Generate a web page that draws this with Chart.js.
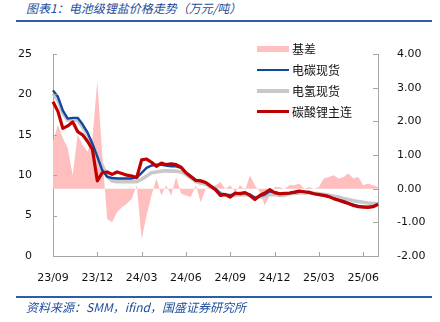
<!DOCTYPE html>
<html>
<head>
<meta charset="utf-8">
<script src="https://cdn.jsdelivr.net/npm/chart.js@4/dist/chart.umd.min.js"></script>
<style>
  body { margin: 0; background: #fff; }
  #wrap { position: relative; width: 440px; height: 322px; overflow: hidden; font-family: "Noto Sans CJK SC", "DejaVu Sans", sans-serif; }
  #c { position: absolute; left: 0; top: 0; }
  .title { position: absolute; left: 26px; top: 0px; font-size: 12px; line-height: 15px; font-style: italic; color: #1F4E9A; white-space: nowrap; }
  .rule { position: absolute; left: 16px; width: 416px; height: 2px; background: #2E5DA6; }
  .src { position: absolute; left: 26px; top: 299px; font-size: 12px; line-height: 15px; font-style: italic; color: #1F4E9A; white-space: nowrap; }
  #legend { position: absolute; left: 257px; top: 38px; background: #fff; }
  .item { height: 21px; display: flex; align-items: center; font-size: 12px; color: #111; white-space: nowrap; }
  .sample { width: 32px; margin-right: 3px; }
</style>
</head>
<body>
<div id="wrap">
  <div class="title">图表1：电池级锂盐价格走势（万元/吨）</div>
  <div class="rule" style="top:20px"></div>
  <canvas id="c" width="440" height="322"></canvas>
  <div id="legend"></div>
  <div class="rule" style="top:296px"></div>
  <div class="src">资料来源：SMM，ifind，国盛证券研究所</div>
</div>
<script>
// months shown, three points per month (上/中/下旬)
const months = ['23/09','23/10','23/11','23/12','24/01','24/02','24/03','24/04','24/05','24/06','24/07','24/08',
  '24/09','24/10','24/11','24/12','25/01','25/02','25/03','25/04','25/05','25/06','25/07'];
const tickLabels = ['23/09','23/12','24/03','24/06','24/09','24/12','25/03','25/06'];

// 电碳现货 (万元/吨)
const carbSpot = [20.5,19.7,18.0,17.0,17.1,17.1,16.3,15.3,13.9,12.3,
  10.6,9.8,9.65,9.6,9.6,9.6,9.6,9.7,10.3,10.9,
  11.2,11.3,11.3,11.2,11.1,11.1,10.9,10.3,9.9,9.4,
  9.3,9.1,8.7,8.3,7.7,7.6,7.5,7.7,7.8,7.8,
  7.6,7.2,7.4,7.6,8.0,7.9,7.75,7.7,7.75,7.85,
  7.95,7.95,7.85,7.7,7.6,7.5,7.4,7.1,6.95,6.8,
  6.55,6.35,6.2,6.1,6.1,6.15,6.4];
// 电氢现货
const hydSpot = [20.1,19.3,17.7,16.8,16.9,16.8,16.0,15.0,13.8,12.4,
  11.2,9.9,9.3,9.2,9.2,9.2,9.2,9.2,9.5,9.9,
  10.3,10.4,10.5,10.55,10.5,10.5,10.4,10.1,9.7,9.2,
  9.0,8.9,8.6,8.2,7.8,7.6,7.5,7.5,7.6,7.6,
  7.5,7.2,7.3,7.4,7.6,7.6,7.5,7.5,7.7,7.75,
  7.8,7.8,7.8,7.75,7.7,7.6,7.5,7.4,7.3,7.1,
  7.0,6.85,6.75,6.65,6.55,6.5,6.45];
// 碳酸锂主连
const futures = [19.1,17.9,15.8,16.1,16.6,15.4,15.0,14.2,13.2,9.3,
  10.3,10.4,10.1,10.4,10.2,10.0,9.9,9.7,11.9,12.0,
  11.6,11.1,11.5,11.3,11.4,11.3,11.0,10.3,9.8,9.35,
  9.3,9.1,8.65,8.2,7.5,7.6,7.3,7.8,7.7,7.85,
  7.5,7.0,7.5,7.8,8.2,7.85,7.7,7.75,7.8,7.9,
  8.05,7.95,7.9,7.7,7.6,7.5,7.35,7.1,6.9,6.7,
  6.5,6.25,6.1,6.05,6.0,6.1,6.4];
// 基差 (right axis)
const basis = [1.4,1.9,1.5,1.2,0.4,1.6,1.3,1.1,1.5,3.2,
  1.0,-0.9,-1.0,-0.7,-0.55,-0.45,-0.3,0.1,-1.5,-0.8,
  -0.2,0.3,-0.2,0.1,-0.2,0.35,-0.15,-0.2,-0.25,0.1,
  -0.4,0.0,0.05,0.1,0.2,0.0,0.1,-0.1,0.1,-0.05,
  0.4,0.1,-0.1,-0.5,-0.2,0.05,0.05,0.0,0.1,0.1,
  0.15,0.0,0.05,0.0,0.05,0.3,0.35,0.4,0.3,0.35,
  0.45,0.3,0.35,0.1,0.15,0.1,0.05];

const labels = [];
months.forEach(m => ['上','中','下'].forEach(p => labels.push(m + p)));
labels.length = carbSpot.length;

const axisColor = '#A6A6A6';
const tickFont = { family: 'DejaVu Sans', size: 11 };

// small tick marks pointing into the plot
const innerTicks = {
  id: 'innerTicks',
  afterDraw(chart) {
    const ctx = chart.ctx, a = chart.chartArea;
    const x = chart.scales.x, y = chart.scales.y, y1 = chart.scales.y1;
    ctx.save();
    ctx.strokeStyle = axisColor;
    ctx.lineWidth = 1;
    ctx.beginPath();
    labels.forEach((l, i) => {
      if (l.endsWith('上') && tickLabels.includes(l.slice(0, 5))) {
        const px = Math.round(x.getPixelForValue(i)) + 0.5;
        ctx.moveTo(px, a.bottom); ctx.lineTo(px, a.bottom - 4);
      }
    });
    y.ticks.forEach(t => {
      const py = Math.round(y.getPixelForValue(t.value)) + 0.5;
      ctx.moveTo(a.left, py); ctx.lineTo(a.left + 4, py);
    });
    y1.ticks.forEach(t => {
      const py = Math.round(y1.getPixelForValue(t.value)) + 0.5;
      ctx.moveTo(a.right, py); ctx.lineTo(a.right - 5, py);
    });
    ctx.stroke();
    ctx.restore();
  }
};

const chart = new Chart(document.getElementById('c'), {
  type: 'line',
  data: {
    labels: labels,
    datasets: [
      { label: '基差', data: basis, yAxisID: 'y1', fill: 'origin', backgroundColor: '#FFBFBF',
        borderColor: 'rgba(0,0,0,0)', borderWidth: 1, order: 4 },
      { label: '电碳现货', data: carbSpot, yAxisID: 'y', borderColor: '#1047A0', borderWidth: 2.4, fill: false, order: 2 },
      { label: '电氢现货', data: hydSpot, yAxisID: 'y', borderColor: '#C8C8C8', borderWidth: 3.6, fill: false, order: 3 },
      { label: '碳酸锂主连', data: futures, yAxisID: 'y', borderColor: '#C00000', borderWidth: 3.2, fill: false, order: 1 }
    ]
  },
  options: {
    responsive: false,
    animation: false,
    layout: { padding: { top: 54, left: 0, right: 0, bottom: 0 } },
    elements: { point: { radius: 0 }, line: { tension: 0, borderJoinStyle: 'round' } },
    plugins: { legend: { display: false }, tooltip: { enabled: false } },
    scales: {
      x: {
        grid: { display: false },
        border: { display: true, color: axisColor },
        ticks: {
          autoSkip: false, maxRotation: 0, padding: 8, color: '#111', font: tickFont,
          callback: (v, i) => {
            const m = labels[i].slice(0, 5);
            return labels[i].endsWith('上') && tickLabels.includes(m) ? m : null;
          }
        },
        afterFit: s => { s.height = 66; }
      },
      y: {
        position: 'left', min: 0, max: 25,
        grid: { display: false },
        border: { display: true, color: axisColor },
        ticks: { stepSize: 5, padding: 13, color: '#111', font: tickFont },
        afterFit: s => { s.width = 53; }
      },
      y1: {
        position: 'right', min: -2, max: 4,
        grid: { display: false },
        border: { display: true, color: axisColor },
        ticks: { stepSize: 1, padding: 11, color: '#111', font: tickFont, callback: v => v.toFixed(2) },
        afterFit: s => { s.width = 62; }
      }
    }
  },
  plugins: [innerTicks]
});

// legend in the top right of the plot
const legend = document.getElementById('legend');
chart.data.datasets.forEach(ds => {
  const row = document.createElement('div');
  row.className = 'item';
  const sw = document.createElement('div');
  sw.className = 'sample';
  if (ds.fill) {
    sw.style.height = '6px';
    sw.style.background = ds.backgroundColor;
  } else {
    sw.style.height = Math.round(ds.borderWidth) + 'px';
    sw.style.background = ds.borderColor;
  }
  row.appendChild(sw);
  row.appendChild(document.createTextNode(ds.label));
  legend.appendChild(row);
});
</script>
</body>
</html>
